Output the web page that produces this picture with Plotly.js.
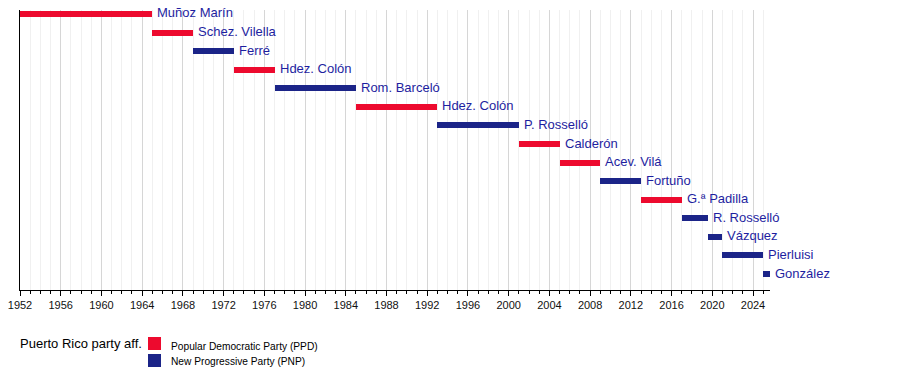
<!DOCTYPE html>
<html>
<head>
<meta charset="utf-8">
<script src="https://cdn.plot.ly/plotly-3.0.1.min.js"></script>
<style>html,body{margin:0;padding:0;background:#fff;}#chart{width:900px;height:370px;}</style>
</head>
<body>
<div id="chart"></div>
<script>
const governors = ["Muñoz Marín","Schez. Vilella","Ferré","Hdez. Colón","Rom. Barceló","Hdez. Colón","P. Rosselló","Calderón","Acev. Vilá","Fortuño","G.ª Padilla","R. Rosselló","Vázquez","Pierluisi","González"];
const termStart = [1949.0,1965.0,1969.0,1973.0,1977.0,1985.0,1993.0,2001.0,2005.0,2009.0,2013.0,2017.0,2019.6,2021.0,2025.0];
const termEnd   = [1965.0,1969.0,1973.0,1977.0,1985.0,1993.0,2001.0,2005.0,2009.0,2013.0,2017.0,2019.6,2021.0,2025.0,2025.65];
const party     = ["PPD","PPD","PNP","PPD","PNP","PPD","PNP","PPD","PPD","PNP","PPD","PNP","PNP","PNP","PNP"];
const partyNames = {PPD:"Popular Democratic Party (PPD)", PNP:"New Progressive Party (PNP)"};
const partyColors = {PPD:"#ED0A2E", PNP:"#1B2488"};
const tickYears = [1952,1956,1960,1964,1968,1972,1976,1980,1984,1988,1992,1996,2000,2004,2008,2012,2016,2020,2024];

const FONT = "Liberation Sans, Arial, sans-serif";
const idx = governors.map((_,i)=>i);
const traces = [{
  type:"bar", orientation:"h",
  y: idx, base: termStart,
  x: termEnd.map((e,i)=>e-termStart[i]),
  width: 0.32,
  marker:{color: party.map(p=>partyColors[p]), line:{width:0}},
  hoverinfo:"skip", showlegend:false
}];

const nameAnnotations = governors.map((g,i)=>({
  xref:"x", yref:"y", x: termEnd[i], y: i,
  xanchor:"left", yanchor:"middle", xshift:3, yshift:1,
  text: g, showarrow:false,
  font:{family:FONT, size:13, color:"#1E1EA0"}
}));

const legendFont = {family:FONT, size:10.2, color:"#000"};
const layout = {
  width:900, height:370,
  margin:{l:20, r:130, t:10, b:80, pad:0},
  paper_bgcolor:"#fff", plot_bgcolor:"#fff",
  showlegend:false,
  bargap:0,
  xaxis:{
    range:[1952, 2025.67],
    tickvals: tickYears, ticktext: tickYears.map(String),
    ticks:"outside", ticklen:5, tickcolor:"#000", tickwidth:1,
    showline:true, linecolor:"#000", linewidth:1,
    showgrid:true, gridcolor:"#d6d6d6", gridwidth:1,
    zeroline:false,
    tickfont:{family:FONT, size:11, color:"#111"},
    minor:{dtick:1, tick0:1952, ticks:"outside", ticklen:3, tickcolor:"#000", showgrid:true, gridcolor:"#f0f0f0", gridwidth:1}
  },
  yaxis:{
    range:[14.86, -0.215],
    showticklabels:false, ticks:"", showgrid:false, zeroline:false,
    showline:true, linecolor:"#000", linewidth:1
  },
  annotations: nameAnnotations.concat([
    {xref:"paper", yref:"paper", x:0, y:-0.19, xanchor:"left", yanchor:"middle", xshift:-2,
     text:"Puerto Rico party aff.", showarrow:false,
     font:{family:FONT, size:13, color:"#000"}},
    {xref:"paper", yref:"paper", x:(171-20)/750, y:-0.2, xanchor:"left", yanchor:"middle", xshift:-2,
     text:partyNames.PPD, showarrow:false, font:legendFont},
    {xref:"paper", yref:"paper", x:(171-20)/750, y:-0.257, xanchor:"left", yanchor:"middle", xshift:-2,
     text:partyNames.PNP, showarrow:false, font:legendFont}
  ]),
  shapes:[
    {type:"rect", xref:"paper", yref:"paper", x0:(148-20)/750, x1:(161-20)/750, y0:(290-350)/280, y1:(290-337)/280,
     fillcolor:partyColors.PPD, line:{width:0}},
    {type:"rect", xref:"paper", yref:"paper", x0:(148-20)/750, x1:(161-20)/750, y0:(290-367)/280, y1:(290-354)/280,
     fillcolor:partyColors.PNP, line:{width:0}}
  ]
};
Plotly.newPlot("chart", traces, layout, {staticPlot:true, displayModeBar:false});
</script>
</body>
</html>
